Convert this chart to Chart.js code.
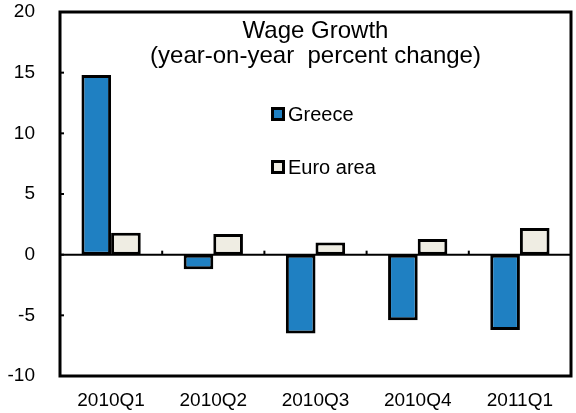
<!DOCTYPE html>
<html>
<head>
<meta charset="utf-8">
<script src="https://cdn.jsdelivr.net/npm/chart.js@4/dist/chart.umd.min.js"></script>
<style>
  body { margin: 0; background: #fff; }
  canvas { display: block; }
</style>
</head>
<body>
<canvas id="myChart" width="576" height="413"></canvas>
<script>
var labels = ['2010Q1', '2010Q2', '2010Q3', '2010Q4', '2011Q1'];
var greece = [14.8, -1.2, -6.5, -5.4, -6.2];
var euroArea = [1.8, 1.7, 1.0, 1.3, 2.2];
var titleLines = ['Wage Growth', '(year-on-year  percent change)'];

var FONT = "'Liberation Sans', Arial, sans-serif";

// frame, zero line, inward ticks, title and legend drawn inside the plot
var decorations = {
	id: 'decorations',
	afterDatasetsDraw: function (chart) {
		var ctx = chart.ctx;
		var area = chart.chartArea;
		var x = chart.scales.x;
		var y = chart.scales.y;
		var zero = y.getPixelForValue(0);
		ctx.save();
		ctx.strokeStyle = '#000';

		// zero line
		ctx.lineWidth = 2;
		ctx.beginPath();
		ctx.moveTo(area.left, zero);
		ctx.lineTo(area.right, zero);
		ctx.stroke();

		// y ticks pointing inward
		y.ticks.forEach(function (t) {
			var py = y.getPixelForValue(t.value);
			ctx.beginPath();
			ctx.moveTo(area.left, py);
			ctx.lineTo(area.left + 4, py);
			ctx.stroke();
		});

		// category separators on the zero line
		for (var i = 0; i < labels.length - 1; i++) {
			var px = (x.getPixelForTick(i) + x.getPixelForTick(i + 1)) / 2;
			ctx.beginPath();
			ctx.moveTo(px, zero);
			ctx.lineTo(px, zero - 4);
			ctx.stroke();
		}

		// frame
		ctx.lineWidth = 3;
		ctx.strokeRect(area.left, area.top, area.right - area.left, area.bottom - area.top);

		// title
		var cx = (area.left + area.right) / 2;
		ctx.fillStyle = '#000';
		ctx.textAlign = 'center';
		ctx.textBaseline = 'alphabetic';
		ctx.font = '24px ' + FONT;
		ctx.fillText(titleLines[0], cx, 38);
		ctx.fillText(titleLines[1], cx, 63);

		// legend
		ctx.font = '20px ' + FONT;
		ctx.textAlign = 'left';
		var rows = [114, 167];
		chart.data.datasets.forEach(function (ds, k) {
			var ry = rows[k];
			ctx.fillStyle = ds.backgroundColor;
			ctx.fillRect(272.5, ry - 5.5, 11, 11);
			ctx.lineWidth = 3;
			ctx.strokeRect(272.5, ry - 5.5, 11, 11);
			ctx.fillStyle = '#000';
			ctx.fillText(ds.label, 288, ry + 7);
		});
		ctx.restore();
	}
};

new Chart('myChart', {
	type: 'bar',
	data: {
		labels: labels,
		datasets: [{
			label: 'Greece',
			data: greece,
			backgroundColor: '#1f80c2',
			borderColor: '#000',
			borderWidth: 3,
			borderSkipped: false
		}, {
			label: 'Euro area',
			data: euroArea,
			backgroundColor: '#efede3',
			borderColor: '#000',
			borderWidth: 3,
			borderSkipped: false
		}]
	},
	options: {
		responsive: false,
		animation: false,
		layout: {
			padding: { left: 0, right: 5, top: 12, bottom: 0 }
		},
		datasets: {
			bar: { categoryPercentage: 0.58, barPercentage: 1.0 }
		},
		plugins: {
			legend: { display: false },
			title: { display: false },
			tooltip: { enabled: false }
		},
		scales: {
			x: {
				grid: { display: false },
				border: { display: false },
				ticks: {
					color: '#000',
					font: { family: FONT, size: 19 },
					padding: 5,
					maxRotation: 0
				},
				afterFit: function (scale) {
					scale.height = 37;
					scale.paddingLeft = 0;
					scale.paddingRight = 0;
				}
			},
			y: {
				min: -10,
				max: 20,
				grid: { display: false },
				border: { display: false },
				ticks: {
					stepSize: 5,
					color: '#000',
					font: { family: FONT, size: 19 },
					padding: 17
				},
				afterFit: function (scale) {
					scale.width = 60;
					scale.paddingTop = 0;
					scale.paddingBottom = 0;
				}
			}
		}
	},
	plugins: [decorations]
});
</script>
</body>
</html>
